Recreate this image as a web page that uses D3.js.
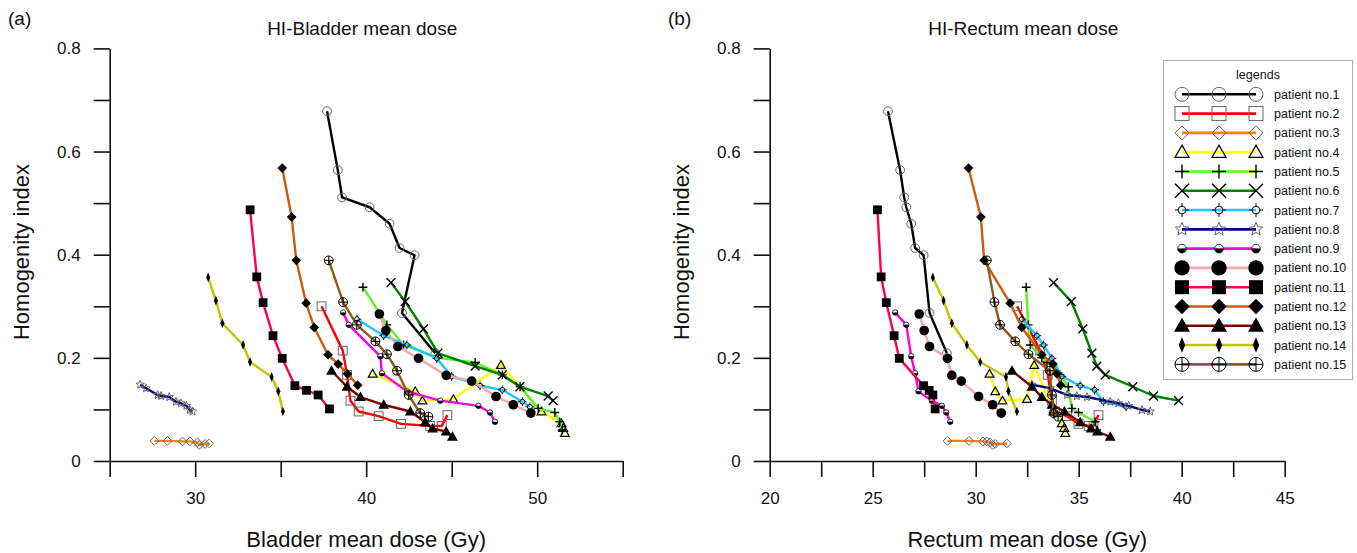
<!DOCTYPE html>
<html>
<head>
<meta charset="utf-8">
<script src="https://cdn.jsdelivr.net/npm/d3@7"></script>
<style>
  body { margin: 0; background: #fff; }
  svg { display: block; }
  text { font-family: "Liberation Sans", Arial, sans-serif; fill: #111; }
</style>
</head>
<body>
<svg id="chart" width="1357" height="553"></svg>
<script>
// patients and their plans: HI (same in both panels), bladder and rectum mean dose
const patients = ["patient no.1", "patient no.2", "patient no.3", "patient no.4", "patient no.5",
  "patient no.6", "patient no.7", "patient no.8", "patient no.9", "patient no.10",
  "patient no.11", "patient no.12", "patient no.13", "patient no.14", "patient no.15"];

const hi = [
  [0.678, 0.564, 0.511, 0.492, 0.460, 0.413, 0.399, 0.287, 0.209],
  [0.300, 0.214, 0.167, 0.117, 0.096, 0.087, 0.072, 0.068, 0.068, 0.089],
  [0.039, 0.039, 0.038, 0.038, 0.036, 0.031, 0.033, 0.034],
  [0.169, 0.135, 0.117, 0.120, 0.186, 0.096, 0.073, 0.064, 0.054],
  [0.337, 0.264, 0.225, 0.200, 0.191, 0.167, 0.144, 0.102, 0.094, 0.076, 0.060],
  [0.346, 0.309, 0.256, 0.209, 0.184, 0.167, 0.144, 0.126, 0.117],
  [0.275, 0.243, 0.225, 0.199, 0.164, 0.146, 0.138, 0.115, 0.105],
  [0.148, 0.141, 0.128, 0.126, 0.124, 0.115, 0.112, 0.107, 0.099, 0.096],
  [0.288, 0.264, 0.203, 0.170, 0.135, 0.117, 0.107, 0.094, 0.076],
  [0.285, 0.253, 0.222, 0.199, 0.166, 0.155, 0.125, 0.109, 0.093],
  [0.487, 0.357, 0.307, 0.243, 0.199, 0.146, 0.137, 0.128, 0.101],
  [0.568, 0.473, 0.389, 0.306, 0.259, 0.206, 0.188, 0.169, 0.147],
  [0.175, 0.144, 0.124, 0.109, 0.096, 0.075, 0.063, 0.057, 0.047],
  [0.356, 0.311, 0.267, 0.225, 0.192, 0.163, 0.135, 0.096],
  [0.389, 0.308, 0.264, 0.232, 0.207, 0.175, 0.128, 0.093, 0.086]
];

const bladderDose = [
  [37.71, 38.34, 38.59, 40.20, 41.37, 41.95, 42.83, 42.09, 44.04],
  [37.39, 38.63, 38.88, 39.08, 39.56, 40.73, 42.03, 43.74, 44.42, 44.75],
  [27.61, 28.38, 29.26, 29.69, 30.13, 30.23, 30.58, 30.82],
  [40.38, 42.87, 43.29, 45.10, 47.88, 50.25, 51.42, 51.52, 51.62],
  [39.81, 41.21, 42.19, 44.23, 46.37, 47.96, 49.00, 50.06, 51.03, 51.32, 51.46],
  [41.45, 42.28, 43.35, 44.19, 46.37, 47.96, 48.99, 50.64, 50.93],
  [39.46, 41.02, 42.38, 44.13, 45.00, 46.66, 47.96, 49.13, 49.57],
  [26.78, 27.13, 27.80, 28.00, 28.48, 28.87, 29.17, 29.49, 29.69, 29.84],
  [38.65, 38.98, 40.83, 40.92, 42.38, 44.33, 46.56, 47.24, 47.53],
  [40.77, 41.15, 41.85, 43.06, 44.68, 46.17, 47.59, 48.60, 49.63],
  [33.21, 33.60, 33.97, 34.55, 35.09, 35.83, 36.51, 37.19, 37.85],
  [35.09, 35.64, 35.91, 36.49, 36.96, 37.77, 38.36, 38.90, 39.50],
  [37.97, 38.88, 39.66, 41.02, 42.58, 43.45, 43.88, 44.68, 45.04],
  [30.76, 31.21, 31.59, 32.80, 33.21, 34.47, 34.86, 35.13],
  [37.81, 38.65, 39.45, 40.54, 41.21, 41.80, 42.48, 43.16, 43.64]
];

const rectumDose = [
  [25.74, 26.33, 26.53, 26.63, 26.87, 27.06, 27.47, 27.76, 28.60],
  [32.01, 33.13, 33.50, 33.70, 33.86, 34.43, 34.99, 35.48, 35.72, 35.96],
  [28.63, 29.68, 30.35, 30.54, 30.70, 30.83, 30.95, 31.51],
  [30.67, 30.95, 31.30, 32.49, 32.84, 33.78, 34.18, 34.30, 34.35],
  [32.45, 32.55, 32.65, 33.20, 33.46, 34.10, 34.50, 34.67, 34.99, 35.80, 35.88],
  [33.78, 34.64, 35.20, 35.64, 35.88, 36.29, 37.63, 38.63, 39.85],
  [32.24, 32.97, 33.29, 33.70, 34.18, 35.07, 35.77, 36.20, 37.30],
  [32.73, 33.62, 34.43, 34.91, 35.40, 36.53, 36.93, 37.42, 38.07, 38.47],
  [26.09, 26.63, 26.87, 27.06, 27.22, 27.87, 28.36, 28.57, 28.76],
  [27.26, 27.50, 27.76, 28.63, 28.84, 29.30, 30.14, 30.82, 31.24],
  [25.23, 25.41, 25.66, 26.04, 26.29, 27.47, 27.74, 27.92, 28.03],
  [29.65, 30.25, 30.41, 31.67, 32.24, 33.21, 33.75, 33.94, 34.13],
  [31.76, 32.73, 33.21, 33.70, 34.30, 35.07, 35.60, 35.91, 36.53],
  [27.92, 28.44, 28.84, 29.57, 30.22, 31.47, 31.59, 32.00],
  [30.54, 30.91, 31.18, 31.92, 32.56, 33.60, 33.70, 33.78, 34.00]
];

const hiTicks = [0, 0.1, 0.2, 0.3, 0.4, 0.5, 0.6, 0.7, 0.8];
const hiLabels = ["0", "", "0.2", "", "0.4", "", "0.6", "", "0.8"];
const bladderTicks = [25, 30, 35, 40, 45, 50, 55];
const bladderLabels = ["", "30", "", "40", "", "50", ""];
const rectumTicks = [20, 22.5, 25, 27.5, 30, 32.5, 35, 37.5, 40, 42.5, 45];
const rectumLabels = ["20", "", "25", "", "30", "", "35", "", "40", "", "45"];

// styles
const lineColors = ["#000000", "#ff0000", "#ff8000", "#ffff00", "#5ff02a", "#008000", "#1ec8ff", "#000080",
  "#ff00e0", "#f8a8a8", "#ff0050", "#cc5a10", "#800000", "#c4c400", "#8c5a1a"];
const markerTypes = ["circle", "square", "diamond", "triangle", "plus", "cross", "crosshair", "star",
  "half", "dot", "fsquare", "fdiamond", "ftriangle", "thin", "oplus"];

const svg = d3.select("#chart");

function drawMarker(g, type, cx, cy, s) {
  const grey = "#666";
  if (type === "circle") {
    g.append("circle").attr("cx", cx).attr("cy", cy).attr("r", s)
      .attr("fill", "none").attr("stroke", grey).attr("stroke-width", 1);
  } else if (type === "square") {
    g.append("rect").attr("x", cx - s).attr("y", cy - s).attr("width", 2 * s).attr("height", 2 * s)
      .attr("fill", "none").attr("stroke", grey).attr("stroke-width", 1);
  } else if (type === "diamond") {
    g.append("path").attr("d", `M${cx},${cy - s}L${cx + s},${cy}L${cx},${cy + s}L${cx - s},${cy}Z`)
      .attr("fill", "none").attr("stroke", grey).attr("stroke-width", 1);
  } else if (type === "triangle" || type === "ftriangle") {
    g.append("path").attr("d", `M${cx},${cy - s}L${cx + s},${cy + 0.75 * s}L${cx - s},${cy + 0.75 * s}Z`)
      .attr("fill", type === "ftriangle" ? "#000" : "none").attr("stroke", "#000").attr("stroke-width", 1.2);
  } else if (type === "plus") {
    g.append("path").attr("d", `M${cx - s},${cy}H${cx + s}M${cx},${cy - s}V${cy + s}`)
      .attr("stroke", "#000").attr("stroke-width", 1.4);
  } else if (type === "cross") {
    g.append("path").attr("d", `M${cx - s},${cy - s}L${cx + s},${cy + s}M${cx - s},${cy + s}L${cx + s},${cy - s}`)
      .attr("stroke", "#000").attr("stroke-width", 1.4);
  } else if (type === "crosshair") {
    const r = s * 0.55;
    g.append("circle").attr("cx", cx).attr("cy", cy).attr("r", r)
      .attr("fill", "none").attr("stroke", "#000").attr("stroke-width", 1);
    g.append("path").attr("d", `M${cx - s},${cy}H${cx - r}M${cx + r},${cy}H${cx + s}M${cx},${cy - s}V${cy - r}M${cx},${cy + r}V${cy + s}`)
      .attr("stroke", "#000").attr("stroke-width", 1);
  } else if (type === "star") {
    const pts = d3.range(10).map(i => {
      const a = -Math.PI / 2 + i * Math.PI / 5, r = i % 2 ? s * 0.45 : s;
      return [cx + r * Math.cos(a), cy + r * Math.sin(a)];
    });
    g.append("path").attr("d", "M" + pts.join("L") + "Z")
      .attr("fill", "none").attr("stroke", grey).attr("stroke-width", 1);
  } else if (type === "half") {
    const r = s * 0.62;
    g.append("path").attr("d", `M${cx - r},${cy}A${r},${r} 0 0 1 ${cx + r},${cy}Z`).attr("fill", "#fff");
    g.append("path").attr("d", `M${cx - r},${cy}A${r},${r} 0 0 0 ${cx + r},${cy}Z`).attr("fill", "#000");
    g.append("circle").attr("cx", cx).attr("cy", cy).attr("r", r)
      .attr("fill", "none").attr("stroke", "#000").attr("stroke-width", 0.8);
  } else if (type === "dot") {
    g.append("circle").attr("cx", cx).attr("cy", cy).attr("r", s * 1.1).attr("fill", "#000");
  } else if (type === "fsquare") {
    g.append("rect").attr("x", cx - s).attr("y", cy - s).attr("width", 2 * s).attr("height", 2 * s).attr("fill", "#000");
  } else if (type === "fdiamond") {
    const d = s * 1.1;
    g.append("path").attr("d", `M${cx},${cy - d}L${cx + d},${cy}L${cx},${cy + d}L${cx - d},${cy}Z`).attr("fill", "#000");
  } else if (type === "thin") {
    const d = s * 1.1;
    g.append("path").attr("d", `M${cx},${cy - d}L${cx + d * 0.42},${cy}L${cx},${cy + d}L${cx - d * 0.42},${cy}Z`).attr("fill", "#000");
  } else if (type === "oplus") {
    g.append("circle").attr("cx", cx).attr("cy", cy).attr("r", s)
      .attr("fill", "none").attr("stroke", "#000").attr("stroke-width", 1);
    g.append("path").attr("d", `M${cx - s},${cy}H${cx + s}M${cx},${cy - s}V${cy + s}`)
      .attr("stroke", "#000").attr("stroke-width", 1);
  }
}

const yScale = d3.scaleLinear().domain([0, 0.8]).range([461, 48.4]);

const panels = [
  { tag: "(a)", tagX: 8, title: "HI-Bladder mean dose", xTitle: "Bladder mean dose (Gy)",
    dose: bladderDose, domain: [25, 55], range: [109.7, 622.7], ticks: bladderTicks, labels: bladderLabels },
  { tag: "(b)", tagX: 668, title: "HI-Rectum mean dose", xTitle: "Rectum mean dose (Gy)",
    dose: rectumDose, domain: [20, 45], range: [769.7, 1284.7], ticks: rectumTicks, labels: rectumLabels }
];

panels.forEach(p => {
  const x = d3.scaleLinear().domain(p.domain).range(p.range);
  const g = svg.append("g");
  const midX = (p.range[0] + p.range[1]) / 2;

  g.append("text").attr("x", p.tagX).attr("y", 25).attr("font-size", 19).text(p.tag);
  g.append("text").attr("x", midX - 4).attr("y", 35).attr("text-anchor", "middle")
    .attr("font-size", 19).text(p.title);
  g.append("text").attr("x", midX).attr("y", 547).attr("text-anchor", "middle")
    .attr("font-size", 22).text(p.xTitle);
  g.append("text").attr("transform", `translate(${p.range[0] - 81},252)rotate(-90)`)
    .attr("text-anchor", "middle").attr("font-size", 22).text("Homogenity index");

  const xAxis = g.append("g").attr("transform", `translate(0,${yScale(0)})`)
    .call(d3.axisBottom(x).tickValues(p.ticks).tickSize(16).tickSizeOuter(0).tickPadding(15)
      .tickFormat((d, i) => p.labels[i]));
  const yAxis = g.append("g").attr("transform", `translate(${p.range[0]},0)`)
    .call(d3.axisLeft(yScale).tickValues(hiTicks).tickSize(16).tickSizeOuter(0).tickPadding(13)
      .tickFormat((d, i) => hiLabels[i]));
  [xAxis, yAxis].forEach(a => {
    a.selectAll("path, line").attr("stroke", "#111").attr("stroke-width", 1.6);
    a.selectAll("text").attr("font-size", 17).attr("fill", "#222")
      .attr("font-family", "'Liberation Sans', Arial, sans-serif");
  });

  const line = d3.line().x(d => x(d[0])).y(d => yScale(d[1]));
  p.dose.forEach((doses, k) => {
    const pts = doses.map((v, i) => [v, hi[k][i]]);
    const sg = g.append("g");
    sg.append("path").attr("d", line(pts)).attr("fill", "none")
      .attr("stroke", lineColors[k]).attr("stroke-width", 2.4).attr("stroke-linejoin", "round");
    pts.forEach(d => drawMarker(sg, markerTypes[k], x(d[0]), yScale(d[1]), 4.4));
  });
});

// legend
const lg = svg.append("g");
lg.append("rect").attr("x", 1163.5).attr("y", 60.5).attr("width", 189).attr("height", 319)
  .attr("fill", "#fff").attr("stroke", "#aaa").attr("stroke-width", 1);
lg.append("text").attr("x", 1258).attr("y", 79).attr("text-anchor", "middle").attr("font-size", 12.5).text("legends");
const legendX = [1182, 1219, 1256];
patients.forEach((name, k) => {
  const y = 94.3 + k * 19.29;
  lg.append("line").attr("x1", legendX[0]).attr("x2", legendX[2]).attr("y1", y).attr("y2", y)
    .attr("stroke", lineColors[k]).attr("stroke-width", 2.6);
  legendX.forEach(x => drawMarker(lg, markerTypes[k], x, y, 7));
  lg.append("text").attr("x", 1274).attr("y", y + 4.5).attr("font-size", 12.5).text(name);
});
</script>
</body>
</html>
